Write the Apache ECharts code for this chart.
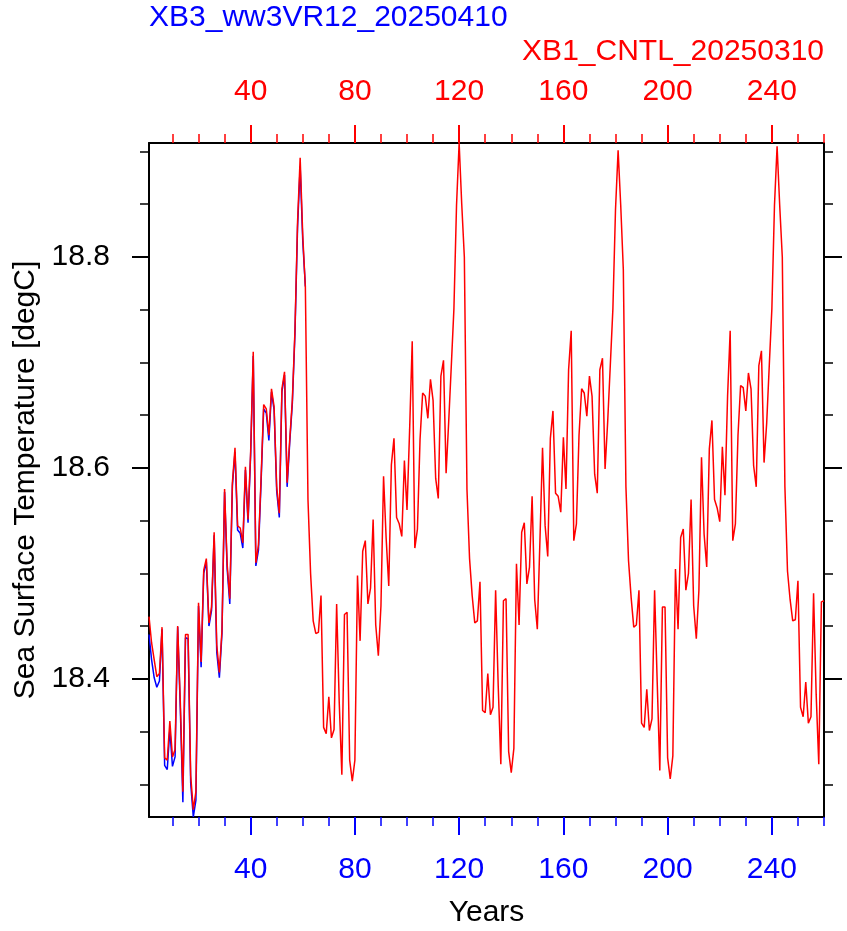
<!DOCTYPE html>
<html>
<head>
<meta charset="UTF-8">
<title>SST</title>
<script src="https://cdn.jsdelivr.net/npm/echarts@6/dist/echarts.min.js"></script>
<style>
  html, body { margin: 0; padding: 0; background: #fff; }
  #main { width: 847px; height: 931px; }
</style>
</head>
<body>
<div id="main"></div>
<script type="text/javascript">
// CNTL run, red, top axis
const cntlName = 'XB1_CNTL_20250310'
const cntl = [
  18.459, 18.434, 18.418, 18.402, 18.405, 18.449, 18.325, 18.323, 18.360, 18.326,
  18.333, 18.450, 18.379, 18.293, 18.442, 18.442, 18.308, 18.276, 18.293, 18.472,
  18.416, 18.503, 18.514, 18.453, 18.468, 18.539, 18.432, 18.406, 18.446, 18.580,
  18.508, 18.476, 18.586, 18.619, 18.545, 18.543, 18.529, 18.601, 18.551, 18.615,
  18.710, 18.510, 18.527, 18.590, 18.660, 18.656, 18.631, 18.675, 18.658, 18.582,
  18.557, 18.675, 18.691, 18.586, 18.627, 18.664, 18.730, 18.833, 18.894, 18.820,
  18.771, 18.570, 18.500, 18.455, 18.443, 18.444, 18.479, 18.354, 18.348, 18.383,
  18.344, 18.352, 18.471, 18.377, 18.309, 18.461, 18.463, 18.323, 18.303, 18.323,
  18.498, 18.436, 18.521, 18.531, 18.471, 18.486, 18.551, 18.451, 18.422, 18.469,
  18.592, 18.533, 18.488, 18.603, 18.628, 18.553, 18.547, 18.535, 18.607, 18.560,
  18.636, 18.720, 18.524, 18.542, 18.627, 18.671, 18.668, 18.647, 18.684, 18.664,
  18.590, 18.571, 18.687, 18.702, 18.595, 18.644, 18.697, 18.751, 18.849, 18.908,
  18.850, 18.800, 18.580, 18.514, 18.479, 18.453, 18.455, 18.492, 18.370, 18.368,
  18.405, 18.366, 18.373, 18.484, 18.393, 18.319, 18.474, 18.476, 18.331, 18.311,
  18.334, 18.509, 18.451, 18.539, 18.548, 18.490, 18.506, 18.573, 18.475, 18.447,
  18.531, 18.619, 18.545, 18.516, 18.628, 18.654, 18.576, 18.573, 18.558, 18.629,
  18.580, 18.693, 18.730, 18.531, 18.547, 18.631, 18.675, 18.671, 18.649, 18.687,
  18.668, 18.594, 18.576, 18.693, 18.704, 18.599, 18.644, 18.697, 18.751, 18.845,
  18.901, 18.849, 18.788, 18.582, 18.512, 18.477, 18.449, 18.451, 18.484, 18.358,
  18.354, 18.390, 18.351, 18.362, 18.484, 18.397, 18.313, 18.468, 18.468, 18.325,
  18.305, 18.327, 18.504, 18.447, 18.534, 18.542, 18.484, 18.500, 18.570, 18.469,
  18.438, 18.484, 18.610, 18.537, 18.506, 18.618, 18.645, 18.570, 18.562, 18.549,
  18.620, 18.574, 18.668, 18.730, 18.531, 18.547, 18.631, 18.678, 18.676, 18.654,
  18.690, 18.675, 18.602, 18.582, 18.697, 18.711, 18.605, 18.642, 18.697, 18.751,
  18.849, 18.905, 18.849, 18.800, 18.582, 18.502, 18.475, 18.455, 18.456, 18.493,
  18.373, 18.364, 18.397, 18.358, 18.364, 18.481, 18.385, 18.319, 18.473, 18.474
]

// ww3 run, blue, bottom axis
const ww3Name = 'XB3_ww3VR12_20250410'
const ww3 = [
  18.442, 18.418, 18.401, 18.392, 18.398, 18.447, 18.318, 18.314, 18.352, 18.317,
  18.326, 18.449, 18.373, 18.283, 18.439, 18.438, 18.301, 18.269, 18.285, 18.469,
  18.411, 18.500, 18.511, 18.450, 18.465, 18.536, 18.425, 18.401, 18.443, 18.577,
  18.504, 18.471, 18.583, 18.615, 18.541, 18.538, 18.524, 18.598, 18.548, 18.612,
  18.706, 18.507, 18.522, 18.586, 18.656, 18.652, 18.626, 18.672, 18.655, 18.578,
  18.553, 18.672, 18.688, 18.582, 18.624, 18.661, 18.727, 18.828, 18.886, 18.815,
  18.772
]

const xMajor = [40, 80, 120, 160, 200, 240]
const xMinor = [10, 20, 30, 50, 60, 70, 90, 100, 110, 130, 140, 150, 170, 180, 190, 210, 220, 230, 250, 260]
const yMajor = [18.4, 18.6, 18.8]
const yMinor = [18.3, 18.35, 18.45, 18.5, 18.55, 18.65, 18.7, 18.75, 18.85, 18.9]

const xMin = 1, xMax = 260
const yMin = 18.269, yMax = 18.908

const FONT = 'Liberation Sans'
const BLUE = '#0000ff'
const RED = '#ff0000'

function xAx(pos, ticks, len, color, labels) {
  return {
    type: 'value', position: pos, min: xMin, max: xMax,
    splitLine: { show: false },
    axisLine: { show: labels, onZero: false, lineStyle: { color: '#000', width: 2 } },
    axisTick: { show: true, customValues: ticks, length: len, lineStyle: { color: color, width: labels ? 2 : 1.5 } },
    axisLabel: labels ? { show: true, customValues: ticks, margin: pos === 'top' ? 36 : 38,
      color: color, fontSize: 30, fontFamily: FONT } : { show: false }
  }
}

function yAx(pos, ticks, len, labels) {
  return {
    type: 'value', position: pos, min: yMin, max: yMax,
    splitLine: { show: false },
    axisLine: { show: len > 10, onZero: false, lineStyle: { color: '#000', width: 2 } },
    axisTick: { show: true, customValues: ticks, length: len, lineStyle: { color: '#000', width: len > 10 ? 2 : 1.5 } },
    axisLabel: labels ? { show: true, customValues: ticks, margin: 39,
      color: '#000', fontSize: 30, fontFamily: FONT } : { show: false }
  }
}

let chart = echarts.init(document.getElementById('main'))

let xAxes = [
  xAx('bottom', xMajor, 18, BLUE, true),
  xAx('bottom', xMinor, 9, BLUE, false),
  xAx('top', xMajor, 18, RED, true),
  xAx('top', xMinor, 9, RED, false)
]
xAxes[0].name = 'Years'
xAxes[0].nameLocation = 'middle'
xAxes[0].nameGap = 81
xAxes[0].nameTextStyle = { color: '#000', fontSize: 30, fontFamily: FONT }

let yAxes = [
  yAx('left', yMajor, 17, true),
  yAx('left', yMinor, 9, false),
  yAx('right', yMajor, 18, false),
  yAx('right', yMinor, 9, false)
]
yAxes[0].name = 'Sea Surface Temperature [degC]'
yAxes[0].nameLocation = 'middle'
yAxes[0].nameRotate = 90
yAxes[0].nameGap = 108
yAxes[0].nameTextStyle = { color: '#000', fontSize: 30, fontFamily: FONT }

chart.setOption({
  animation: false,
  backgroundColor: '#fff',
  title: [
    { text: ww3Name, left: 149, top: 3, padding: 0,
      textStyle: { color: BLUE, fontSize: 30, fontWeight: 'normal', fontFamily: FONT } },
    { text: cntlName, right: 23, top: 37, padding: 0,
      textStyle: { color: RED, fontSize: 30, fontWeight: 'normal', fontFamily: FONT } }
  ],
  grid: { left: 149, right: 23, top: 143, bottom: 114, outerBoundsMode: 'none' },
  xAxis: xAxes,
  yAxis: yAxes,
  series: [
    {
      name: ww3Name, type: 'line', xAxisIndex: 0, yAxisIndex: 0,
      data: ww3.map((v, i) => [i + 1, v]),
      showSymbol: false, lineStyle: { color: BLUE, width: 1.5 }
    },
    {
      name: cntlName, type: 'line', xAxisIndex: 2, yAxisIndex: 0,
      data: cntl.map((v, i) => [i + 1, v]),
      showSymbol: false, lineStyle: { color: RED, width: 1.5 }
    }
  ]
})
</script>
</body>
</html>
